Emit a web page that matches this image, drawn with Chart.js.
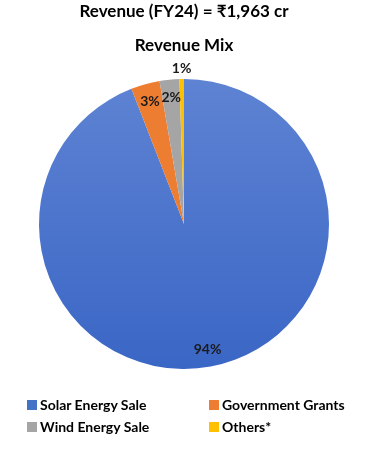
<!DOCTYPE html>
<html>
<head>
<meta charset="utf-8">
<script src="https://cdn.jsdelivr.net/npm/chart.js@4"></script>
<style>
  html,body{margin:0;padding:0;background:#fff;}
  #wrap{position:relative;width:368px;height:458px;}
  #legend{position:absolute;left:0;top:396px;width:368px;font-family:Lato, "Noto Sans", sans-serif;font-weight:bold;font-size:14px;color:#000;}
  .item{position:absolute;display:flex;align-items:center;white-space:nowrap;}
  .box{width:10px;height:10px;margin-right:3px;}
</style>
</head>
<body>
<div id="wrap">
  <canvas id="c" width="368" height="458"></canvas>
  <div id="legend"></div>
</div>
<script>
const categories = ["Solar Energy Sale", "Government Grants", "Wind Energy Sale", "Others*"];
const shares = [94.1, 3.2, 2.2, 0.5];
const shareLabels = ["94%", "3%", "2%", "1%"];
const colors = ["#4472c4", "#ed7d31", "#a5a5a5", "#ffc000"];
const titleText = "Revenue (FY24) = \u20B91,963 cr";
const subtitleText = "Revenue Mix";

const FONT = 'Lato, "Noto Sans", sans-serif';

const labelPlugin = {
  id: 'sliceLabels',
  afterDatasetsDraw(chart) {
    const ctx = chart.ctx;
    const meta = chart.getDatasetMeta(0);
    ctx.save();
    ctx.font = 'bold 14px ' + FONT;
    ctx.fillStyle = '#1a1a1a';
    ctx.textAlign = 'center';
    ctx.textBaseline = 'middle';
    meta.data.forEach((arc, i) => {
      const p = arc.getProps(['x','y','startAngle','endAngle','outerRadius'], true);
      const mid = (p.startAngle + p.endAngle) / 2;
      const f = (p.endAngle - p.startAngle) < 0.05 ? 1.07 : 0.88;
      const r = p.outerRadius * f;
      ctx.fillText(shareLabels[i], p.x + Math.cos(mid) * r, p.y + Math.sin(mid) * r);
    });
    ctx.restore();
  }
};

const chart = new Chart(document.getElementById('c'), {
  type: 'pie',
  data: {
    labels: categories,
    datasets: [{
      data: shares,
      backgroundColor: (context) => {
        const i = context.dataIndex;
        const area = context.chart.chartArea;
        if (i === 0 && area) {
          const g = context.chart.ctx.createLinearGradient(0, area.top, 0, area.bottom);
          g.addColorStop(0, '#5e83d3');
          g.addColorStop(1, '#3a66c5');
          return g;
        }
        return colors[i];
      },
      borderWidth: 0
    }]
  },
  options: {
    responsive: false,
    animation: false,
    layout: { padding: { top: 0, left: 39, right: 39, bottom: 89 } },
    plugins: {
      legend: { display: false },
      tooltip: { enabled: false },
      title: {
        display: true,
        text: titleText,
        color: '#000',
        font: { family: FONT, size: 17, weight: 'bold' },
        padding: { top: 1, bottom: 14 }
      },
      subtitle: {
        display: true,
        text: subtitleText,
        color: '#000',
        font: { family: FONT, size: 17, weight: 'bold' },
        padding: { top: 0, bottom: 23.2 }
      }
    }
  },
  plugins: [labelPlugin]
});

// HTML legend built from the chart's data
const legendPos = [[27, 0], [209, 0], [27, 22], [209, 22]];
const legendEl = document.getElementById('legend');
chart.data.labels.forEach((lab, i) => {
  const it = document.createElement('div');
  it.className = 'item';
  it.style.left = legendPos[i][0] + 'px';
  it.style.top = legendPos[i][1] + 'px';
  const b = document.createElement('span');
  b.className = 'box';
  b.style.background = colors[i];
  const t = document.createElement('span');
  t.textContent = lab;
  it.appendChild(b); it.appendChild(t);
  legendEl.appendChild(it);
});
</script>
</body>
</html>
